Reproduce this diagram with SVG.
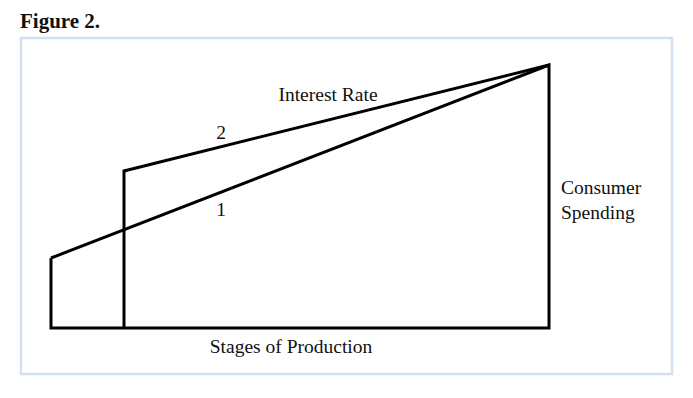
<svg xmlns="http://www.w3.org/2000/svg" width="693" height="398" viewBox="0 0 693 398">
<style>
.t{font-family:"Liberation Serif","Times New Roman",serif;font-size:19.5px;fill:#111}
.ln{stroke:#000;stroke-width:3;fill:none;stroke-linejoin:miter}
</style>
<rect width="693" height="398" fill="#fff"/>
<text x="20" y="28" style="font-family:'Liberation Serif',serif;font-size:21px;font-weight:bold;fill:#111">Figure 2.</text>
<rect x="21" y="38" width="651" height="336" fill="none" stroke="#d3e0f3" stroke-width="2.5"/>
<g id="connectors">
<path class="ln" d="M51,258 L51,328 L549,328 L549,65 L51,258"/>
<path class="ln" d="M124,328 L124,171 L549,65"/>
</g>
<g id="labels">
<text class="t" x="328" y="101" text-anchor="middle">Interest Rate</text>
<text class="t" x="221" y="139" text-anchor="middle">2</text>
<text class="t" x="221" y="216" text-anchor="middle">1</text>
<text class="t" x="561" y="194">Consumer</text>
<text class="t" x="561" y="219">Spending</text>
<text class="t" x="291" y="353" text-anchor="middle">Stages of Production</text>
</g>
</svg>
